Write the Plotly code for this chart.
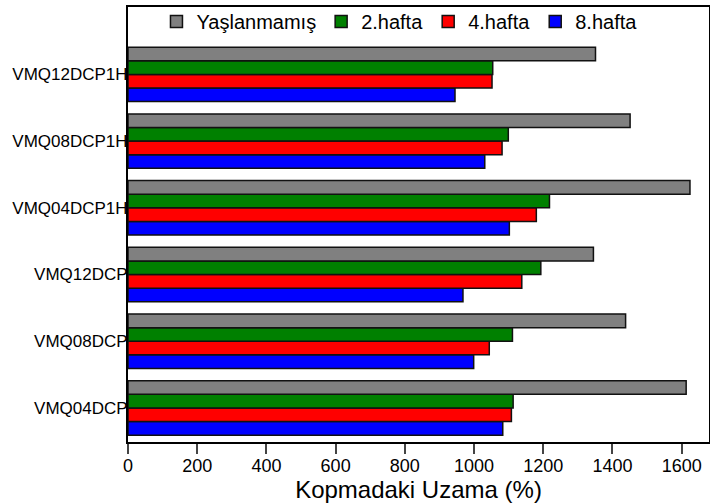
import plotly.graph_objects as go

categories = ["VMQ04DCP", "VMQ08DCP", "VMQ12DCP", "VMQ04DCP1H", "VMQ08DCP1H", "VMQ12DCP1H"]
series_names = ["Yaşlanmamış", "2.hafta", "4.hafta", "8.hafta"]
yaslanmamis = [1613, 1438, 1345, 1624, 1451, 1351]
hafta2 = [1113, 1111, 1193, 1218, 1099, 1054]
hafta4 = [1108, 1044, 1138, 1180, 1081, 1052]
hafta8 = [1083, 999, 968, 1102, 1031, 945]
x_ticks = [0, 200, 400, 600, 800, 1000, 1200, 1400, 1600]

colors = {"Yaşlanmamış": "#808080", "2.hafta": "#008000", "4.hafta": "#ff0000", "8.hafta": "#0000ff"}
values = {"Yaşlanmamış": yaslanmamis, "2.hafta": hafta2, "4.hafta": hafta4, "8.hafta": hafta8}

FONT = "Liberation Sans, Arial, sans-serif"

fig = go.Figure()
# plotly stacks grouped horizontal bars bottom-up, so add in reverse order
for rank, name in reversed(list(enumerate(series_names))):
    fig.add_trace(go.Bar(
        y=categories, x=values[name], name=name, orientation="h",
        marker=dict(color=colors[name], line=dict(color="#111111", width=1.5)),
        legendrank=rank + 1,
    ))

fig.update_layout(
    width=710, height=503,
    margin=dict(l=128, r=1, t=7, b=61, autoexpand=False),
    paper_bgcolor="white", plot_bgcolor="white",
    barmode="group", bargap=0.184, bargroupgap=0,
    font=dict(family=FONT, size=17, color="black"),
    showlegend=True,
    legend=dict(orientation="h", x=0.049, y=1.0115, xanchor="left", yanchor="top",
                bgcolor="rgba(0,0,0,0)", font=dict(size=20), traceorder="normal",
                itemwidth=30, tracegroupgap=0),
    xaxis=dict(range=[0, 1679], tickvals=x_ticks, ticks="outside", ticklen=10, tickwidth=1.5,
               showline=True, linecolor="black", linewidth=2, mirror=True,
               showgrid=False, zeroline=False, automargin=False,
               ticklabelstandoff=-4,
               title=dict(text="Kopmadaki Uzama (%)", font=dict(size=24), standoff=0),
               tickfont=dict(size=18)),
    yaxis=dict(range=[-0.51, 6.01], showline=True, linecolor="black", linewidth=2, mirror=True,
               showgrid=False, ticks="", ticklen=0, ticklabelstandoff=-5, automargin=False,
               tickfont=dict(size=17)),
)

fig.write_html("out.html", config={"displayModeBar": False},
               post_script="document.body.style.margin='0';")
